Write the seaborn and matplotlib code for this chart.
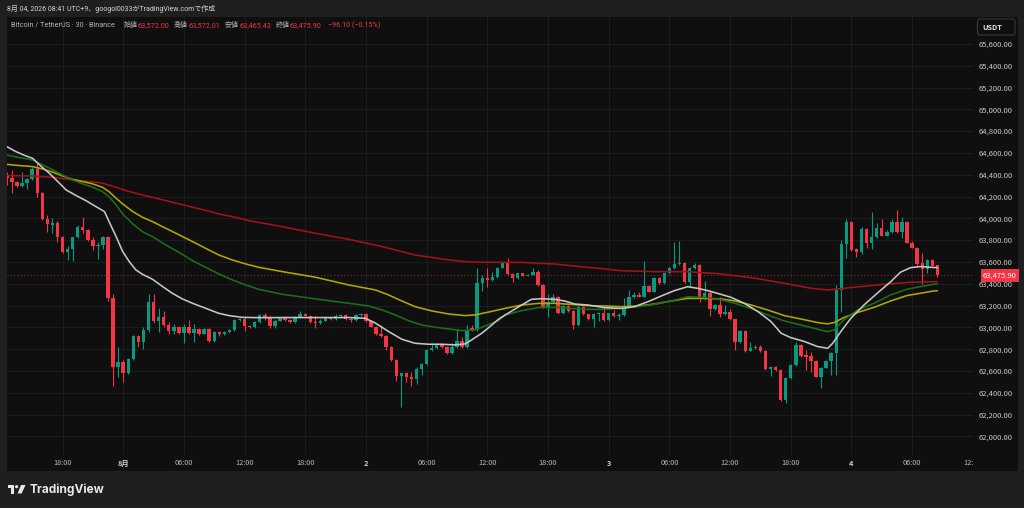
import numpy as np
import pandas as pd
import matplotlib
matplotlib.use("Agg")
import matplotlib.pyplot as plt
import seaborn as sns
from matplotlib.patches import Rectangle, Polygon, Circle, FancyBboxPatch
from matplotlib.transforms import Affine2D, blended_transform_factory

sns.set_theme(style="dark")
plt.rcParams["font.family"] = ["Noto Sans CJK JP", "DejaVu Sans"]
LATIN = ["Roboto", "Noto Sans CJK JP", "DejaVu Sans"]

# ---------------- data (30-min candles, BTC/USDT) ----------------
opens = [64392, 64368, 64331, 64300, 64328, 64358, 64453, 64230, 63995, 63943,
         63961, 63826, 63689, 63716, 63826, 63918, 63894, 63802, 63747, 63756,
         63826, 63267, 62640, 62680, 62585, 62713, 62921, 62863, 62976, 63236,
         63056, 63092, 63019, 62964, 63001, 62952, 63007, 62946, 62982, 62943,
         62982, 62878, 62961, 62936, 62955, 62976, 63068, 63080, 63016, 63001,
         63047, 63114, 63093, 63013, 63062, 63083, 63068, 63047, 63096, 63126,
         63108, 63053, 63044, 63062, 63088, 63075, 63100, 63110, 63080, 63068,
         63114, 63123, 63059, 63007, 62940, 62924, 62823, 62701, 62557, 62585,
         62548, 62527, 62622, 62664, 62793, 62814, 62848, 62823, 62768, 62823,
         62875, 62823, 62990, 62976, 63404, 63450, 63435, 63459, 63547, 63593,
         63489, 63450, 63495, 63474, 63484, 63511, 63388, 63190, 63236, 63275,
         63129, 63199, 63153, 63022, 63190, 63119, 63077, 63122, 63129, 63067,
         63129, 63104, 63110, 63181, 63275, 63297, 63281, 63379, 63327, 63456,
         63404, 63495, 63541, 63578, 63593, 63419, 63541, 63572, 63257, 63318,
         63168, 63205, 63122, 63141, 63074, 62869, 62970, 62787, 62810, 62824,
         62787, 62619, 62640, 62610, 62334, 62539, 62655, 62839, 62747, 62741,
         62695, 62548, 62631, 62695, 62769, 63343, 63765, 63970, 63719, 63689,
         63903, 63772, 63827, 63909, 63842, 63873, 63970, 63873, 63964, 63778,
         63732, 63591, 63536, 63616, 63572.00]
highs = [64429, 64444, 64340, 64423, 64370, 64470, 64505, 64240, 64031, 64001,
         63975, 63835, 63747, 63832, 63939, 64010, 63905, 63832, 63787, 63839,
         63835, 63306, 62817, 62701, 62716, 62930, 62933, 63007, 63306, 63306,
         63175, 63154, 63050, 63031, 63013, 63031, 63068, 63028, 62995, 62995,
         62991, 62970, 62970, 62965, 62985, 63078, 63090, 63099, 63025, 63058,
         63125, 63135, 63100, 63074, 63092, 63105, 63075, 63105, 63151, 63135,
         63115, 63105, 63074, 63092, 63098, 63120, 63118, 63118, 63088, 63122,
         63132, 63132, 63065, 63015, 63022, 62932, 62830, 62710, 62585, 62594,
         62594, 62640, 62672, 62800, 62854, 62860, 62858, 62830, 62854, 62982,
         62915, 63022, 63022, 63548, 63481, 63548, 63511, 63555, 63600, 63633,
         63495, 63503, 63503, 63490, 63541, 63526, 63395, 63306, 63306, 63285,
         63207, 63207, 63162, 63198, 63198, 63125, 63130, 63144, 63184, 63136,
         63159, 63135, 63266, 63343, 63327, 63327, 63609, 63387, 63465, 63465,
         63503, 63550, 63780, 63795, 63600, 63550, 63593, 63580, 63425, 63343,
         63213, 63281, 63205, 63165, 63080, 62978, 62978, 62870, 62835, 62840,
         62795, 62650, 62650, 62620, 62548, 62665, 62870, 62848, 62793, 62778,
         62700, 62640, 62705, 62778, 63389, 63802, 63995, 63980, 63728, 63924,
         63912, 64056, 63955, 63995, 63894, 63995, 64077, 64016, 63975, 63790,
         63740, 63680, 63628, 63625, 63572.01]
lows = [64306, 64236, 64290, 64290, 64270, 64350, 64199, 63985, 63878, 63863,
        63787, 63680, 63618, 63612, 63817, 63863, 63795, 63710, 63628, 63719,
        63245, 62462, 62548, 62502, 62573, 62705, 62823, 62799, 62961, 63044,
        62961, 63005, 62940, 62940, 62940, 62854, 62935, 62869, 62930, 62935,
        62863, 62870, 62925, 62928, 62948, 62968, 63060, 62970, 62990, 62995,
        63040, 63068, 62998, 62992, 63055, 63062, 63038, 63040, 63087, 63105,
        63040, 62992, 63028, 63055, 63068, 63068, 63092, 63072, 63053, 63060,
        63108, 63050, 63000, 62932, 62915, 62793, 62690, 62512, 62273, 62502,
        62463, 62481, 62564, 62655, 62785, 62805, 62815, 62760, 62760, 62815,
        62815, 62815, 62968, 62968, 63337, 63374, 63428, 63450, 63540, 63480,
        63419, 63443, 63468, 63470, 63478, 63380, 63180, 63092, 63228, 63120,
        63120, 63145, 62982, 63015, 63110, 63068, 63006, 63061, 63060, 63060,
        63098, 63067, 63100, 63175, 63268, 63275, 63275, 63320, 63320, 63396,
        63396, 63488, 63533, 63572, 63410, 63373, 63535, 63236, 63250, 63104,
        63160, 63098, 63113, 63065, 62792, 62860, 62778, 62780, 62800, 62778,
        62610, 62555, 62600, 62325, 62310, 62530, 62645, 62730, 62610, 62594,
        62540, 62447, 62625, 62564, 62564, 63139, 63634, 63700, 63649, 63671,
        63726, 63720, 63820, 63835, 63835, 63865, 63865, 63817, 63770, 63725,
        63575, 63395, 63496, 63560, 63465.43]
closes = [64374, 64331, 64300, 64328, 64358, 64453, 64230, 63995, 63946, 63961,
          63826, 63689, 63716, 63826, 63918, 63894, 63802, 63747, 63756, 63826,
          63267, 62640, 62680, 62585, 62713, 62921, 62863, 62976, 63236, 63056,
          63092, 63019, 62964, 63001, 62952, 63007, 62946, 62982, 62943, 62982,
          62878, 62961, 62936, 62955, 62976, 63068, 63080, 63016, 63001, 63047,
          63114, 63093, 63013, 63062, 63083, 63068, 63047, 63096, 63126, 63108,
          63050, 63044, 63062, 63083, 63075, 63102, 63110, 63080, 63068, 63114,
          63123, 63059, 63007, 62940, 62924, 62823, 62701, 62557, 62579, 62542,
          62527, 62622, 62664, 62793, 62814, 62848, 62823, 62768, 62823, 62875,
          62823, 62976, 62976, 63404, 63450, 63435, 63459, 63547, 63593, 63489,
          63450, 63495, 63474, 63484, 63511, 63388, 63190, 63236, 63275, 63129,
          63199, 63153, 63022, 63190, 63119, 63077, 63122, 63129, 63067, 63129,
          63104, 63113, 63181, 63281, 63297, 63281, 63379, 63327, 63456, 63404,
          63495, 63541, 63578, 63593, 63419, 63541, 63572, 63257, 63318, 63168,
          63205, 63122, 63141, 63074, 62869, 62970, 62787, 62814, 62824, 62787,
          62619, 62640, 62610, 62334, 62539, 62655, 62839, 62738, 62732, 62695,
          62548, 62631, 62695, 62769, 63343, 63765, 63970, 63710, 63689, 63903,
          63772, 63827, 63909, 63842, 63873, 63970, 63873, 63964, 63778, 63732,
          63582, 63536, 63619, 63567, 63475.90]

# moving-average lines (candle index, price)
white_x = [-0.5, 1.8, 3.8, 5.1, 6.1, 8.4, 10.4, 11.7, 13.7, 15.6, 17.6, 19.3, 20.2, 21.6,
           22.9, 24.2, 25.5, 26.8, 28.8, 30.8, 32.7, 34.7, 36.7, 39.3, 41.9, 43.9, 46.5,
           49.8, 54.4, 61.0, 67.6, 70.9, 72.9, 75.5, 78.1, 80.7, 83.4, 86.0, 88.6, 90.6,
           91.9, 93.9, 95.9, 97.2, 98.5, 101.8, 103.7, 105.7, 108.3, 110.3, 112.3, 114.9,
           118.2, 121.5, 124.1, 126.8, 129.4, 132.0, 134.6, 136.6, 138.6, 141.2, 143.2,
           145.8, 148.5, 151.1, 153.1, 155.0, 157.7, 160.3, 162.3, 163.3, 164.9, 166.9,
           169.5, 172.1, 174.8, 176.7, 178.7, 180.7, 182.6, 184.0]
white_y = [64670, 64612, 64572, 64551, 64505, 64413, 64322, 64261, 64209, 64163, 64108,
           64062, 63970, 63832, 63695, 63603, 63527, 63487, 63441, 63374, 63313, 63261,
           63221, 63175, 63129, 63108, 63092, 63089, 63090, 63090, 63090, 63083, 63038,
           62961, 62891, 62854, 62845, 62845, 62839, 62848, 62885, 62946, 63022, 63074,
           63113, 63205, 63257, 63263, 63257, 63242, 63214, 63205, 63181, 63174, 63190,
           63236, 63288, 63337, 63373, 63358, 63337, 63303, 63275, 63221, 63145, 63053,
           62946, 62906, 62870, 62824, 62808, 62854, 62961, 63084, 63206, 63313, 63420,
           63506, 63548, 63558, 63551, 63548]

green_x = [-0.5, 2.5, 5.1, 7.1, 9.1, 11.0, 13.0, 15.0, 17.0, 18.9, 20.2, 21.6, 22.9, 24.9,
           26.8, 28.8, 31.4, 34.1, 36.7, 39.3, 41.9, 44.6, 47.2, 49.8, 54.4, 61.0, 67.6,
           71.5, 74.2, 76.8, 79.4, 82.0, 84.7, 87.3, 89.9, 92.6, 95.2, 97.2, 98.5, 101.8,
           105.1, 108.3, 111.6, 114.9, 118.2, 121.5, 124.8, 128.1, 131.4, 134.6, 137.9,
           140.6, 143.9, 147.1, 150.4, 153.7, 157.0, 160.3, 162.3, 163.6, 165.5, 168.2,
           171.5, 174.8, 178.0, 180.7, 183.3, 184.0]
green_y = [64585, 64557, 64536, 64490, 64444, 64398, 64352, 64316, 64285, 64245, 64199,
           64123, 64040, 63949, 63878, 63832, 63756, 63686, 63612, 63551, 63490, 63435,
           63389, 63349, 63304, 63261, 63221, 63197, 63160, 63114, 63062, 63022, 63001,
           62986, 62970, 62976, 63025, 63062, 63113, 63153, 63181, 63184, 63174, 63165,
           63165, 63174, 63190, 63211, 63242, 63281, 63275, 63261, 63221, 63175, 63114,
           63059, 63022, 62983, 62961, 62977, 63068, 63160, 63221, 63298, 63350, 63374,
           63395, 63398]

yellow_x = [-0.5, 2.5, 5.1, 7.1, 9.1, 11.0, 13.0, 15.0, 17.0, 18.9, 20.2, 21.6, 22.9, 24.9,
            26.8, 28.8, 31.4, 34.1, 36.7, 39.3, 41.9, 44.6, 47.2, 49.8, 54.4, 61.0, 67.6,
            72.9, 75.5, 78.1, 80.7, 84.0, 87.3, 90.6, 92.6, 95.2, 98.5, 101.8, 105.1,
            108.3, 111.6, 114.9, 118.2, 121.5, 124.8, 128.1, 131.4, 134.6, 137.9, 141.2,
            143.9, 147.1, 150.4, 153.7, 157.0, 160.3, 162.3, 163.6, 165.5, 168.2, 171.5,
            174.8, 178.0, 180.7, 183.3, 184.0]
yellow_y = [64498, 64484, 64475, 64453, 64423, 64389, 64358, 64337, 64316, 64285, 64245,
            64184, 64132, 64062, 64010, 63970, 63909, 63848, 63787, 63725, 63664, 63618,
            63582, 63551, 63512, 63460, 63389, 63343, 63297, 63242, 63190, 63151, 63123,
            63108, 63114, 63140, 63174, 63205, 63220, 63220, 63211, 63199, 63196, 63190,
            63196, 63214, 63242, 63266, 63266, 63260, 63243, 63206, 63160, 63108, 63077,
            63044, 63032, 63044, 63090, 63136, 63184, 63243, 63292, 63313, 63334, 63336]

red_x = [-0.5, 5.1, 7.1, 9.1, 11.7, 15.0, 18.3, 19.6, 21.6, 23.6, 26.2, 28.8, 31.4, 34.1,
         36.7, 39.3, 41.9, 44.6, 47.9, 54.4, 61.0, 67.6, 74.2, 80.7, 87.3, 90.6, 93.9,
         97.2, 101.8, 108.3, 114.9, 121.5, 128.1, 134.6, 140.6, 147.1, 153.7, 159.0,
         162.3, 166.9, 173.4, 178.7, 184.0]
red_y = [64392, 64389, 64383, 64377, 64361, 64343, 64328, 64313, 64285, 64254, 64221,
         64193, 64163, 64132, 64102, 64074, 64040, 64016, 63979, 63924, 63863, 63808,
         63741, 63664, 63619, 63603, 63597, 63597, 63596, 63581, 63551, 63520, 63511,
         63511, 63493, 63457, 63405, 63359, 63343, 63365, 63395, 63414, 63420]

time_tick_pos = [11, 23, 35, 47, 59, 71, 83, 95, 107, 119, 131, 143, 155, 167, 179, 191]
time_tick_labels = ["18:00", "8月", "06:00", "12:00", "18:00", "2", "06:00", "12:00",
                    "18:00", "3", "06:00", "12:00", "18:00", "4", "06:00", "12:00"]
day_labels = {"8月", "2", "3", "4"}
price_ticks = list(range(62000, 65601, 200))
last_price = 63475.90

header_text = "8月 04, 2026 08:41 UTC+9、googol0033がTradingView.comで作成"
symbol_text = "Bitcoin / TetherUS · 30 · Binance"
ohlc_labels = ["始値", "高値", "安値", "終値"]
ohlc_values = ["63,572.00", "63,572.01", "63,465.43", "63,475.90"]
change_text = "−96.10 (−0.15%)"

# ---------------- figure ----------------
W, H = 1024, 508
fig = plt.figure(figsize=(W / 100, H / 100), dpi=100, facecolor="#1f1f1f")
PX = Affine2D().scale(0.01, -0.01).translate(0, H / 100) + fig.dpi_scale_trans  # ref pixel coords

panel = Rectangle((6.5, 16.7), 1018 - 6.5, 470.7 - 16.7, transform=PX,
                  facecolor="#0f0f0f", edgecolor="none", zorder=-5)
fig.add_artist(panel)

ax_l, ax_r, ax_t, ax_b = 6.5, 973.0, 16.7, 455.0
ax = fig.add_axes([ax_l / W, 1 - ax_b / H, (ax_r - ax_l) / W, (ax_b - ax_t) / H])
ax.set_facecolor("#0f0f0f")
for s in ax.spines.values():
    s.set_visible(False)

ax.set_xlim(-0.08, 191.04)
ax.set_ylim(61829, 65850)

# grid
ax.set_xticks(time_tick_pos)
ax.set_xticklabels([])
ax.set_yticks(price_ticks)
ax.yaxis.tick_right()
ax.set_yticklabels([f"{v:,.2f}" for v in price_ticks])
ax.tick_params(axis="y", length=0, pad=4.3, labelsize=5.5, labelcolor="#c8c8c8")
ax.tick_params(axis="x", length=0)
ax.grid(True, color="#1c1c1c", linewidth=0.8)
ax.set_axisbelow(True)

# candles
o = np.array(opens, float); c = np.array(closes, float)
h = np.array(highs, float); l = np.array(lows, float)
idx = np.arange(len(o))
up = c >= o
cols = np.where(up, "#089981", "#f23645")
ax.vlines(idx, l, h, colors=cols, linewidth=0.8, zorder=2)
ax.bar(idx, np.maximum(np.abs(c - o), 9), bottom=np.minimum(o, c), width=0.68,
       color=cols, linewidth=0, zorder=2.1)

# moving averages
for xs, ys, col in [(red_x, red_y, "#a3121b"), (yellow_x, yellow_y, "#b3a600"),
                    (green_x, green_y, "#1d6d1d"), (white_x, white_y, "#c6c6c6")]:
    sns.lineplot(x=xs, y=ys, ax=ax, color=col, linewidth=1.15, estimator=None,
                 sort=False, zorder=3)
ax.set_xlabel(""); ax.set_ylabel("")

# last price dotted line + label
ax.axhline(last_price, color="#8a2a30", linewidth=0.8, linestyle=(0, (1, 2)), zorder=1.5)
bt = blended_transform_factory(ax.transAxes, ax.transData)
ax.text(1 + 9.8 / (ax_r - ax_l), last_price, f"{last_price:,.2f}", transform=bt,
        ha="left", va="center", fontsize=5.5, color="white", zorder=6, clip_on=False,
        bbox=dict(boxstyle="square,pad=0.3", fc="#f23645", ec="none"))

# time labels (clipped at the price scale)
clip = Rectangle((0, 0), ax_r, H, transform=PX, visible=False)
fig.add_artist(clip)
for pos, lab in zip(time_tick_pos, time_tick_labels):
    t = ax.text(pos, -(463 - ax_b) / (ax_b - ax_t), lab,
                transform=blended_transform_factory(ax.transData, ax.transAxes),
                ha="center", va="center", fontsize=5.3,
                color="#d0d0d0" if lab in day_labels else "#b8b8b8",
                fontweight="bold" if lab in day_labels else "normal")
    t.set_clip_on(True)
    t.set_clip_path(clip)

# USDT box
fig.add_artist(FancyBboxPatch((977.5, 19), 37.5, 16, boxstyle="round,pad=0,rounding_size=2.5",
                              transform=PX, fc="#0f0f0f", ec="#3a3a3a", lw=0.8, zorder=5))
fig.text(982, 27.3, "USDT", transform=PX, ha="left", va="center", fontsize=5.3,
         color="#e0e0e0", fontweight="bold", zorder=6)

# header + legend
fig.text(7, 8.6, header_text, transform=PX, ha="left", va="center", fontsize=5.05,
         color="#d4d4d4", family=LATIN)
fig.text(11, 25.3, symbol_text, transform=PX, ha="left", va="center", fontsize=5.2,
         color="#b4b4b4", family=LATIN)
lab_x = [123.3, 174.0, 225.0, 276.0]
val_x = [137.3, 188.3, 239.3, 290.0]
for lx, vx, lab, val in zip(lab_x, val_x, ohlc_labels, ohlc_values):
    fig.text(lx, 25.3, lab, transform=PX, ha="left", va="center", fontsize=5.0, color="#b4b4b4")
    fig.text(vx, 25.3, val, transform=PX, ha="left", va="center", fontsize=5.2,
             color="#f23645", family=LATIN)
fig.text(328.3, 25.3, change_text, transform=PX, ha="left", va="center", fontsize=5.2,
         color="#f23645", family=LATIN)

# TradingView logo
fig.add_artist(Polygon([(7.5, 485), (14.2, 485), (14.2, 493.5), (11.0, 493.5), (11.0, 488.2),
                        (7.5, 488.2)], closed=True, transform=PX, fc="#e8e8e8", ec="none"))
fig.add_artist(Circle((16.6, 486.7), 1.6, transform=PX, fc="#e8e8e8", ec="none"))
fig.add_artist(Polygon([(21.0, 485), (25.5, 485), (21.6, 493.5), (17.6, 493.5)], closed=True,
                       transform=PX, fc="#e8e8e8", ec="none"))
fig.text(29.5, 489.5, "TradingView", transform=PX, ha="left", va="center", fontsize=8.6,
         color="#e8e8e8", fontweight="bold", family=["Inter", "DejaVu Sans"])

fig.savefig("out.png", dpi=100, facecolor=fig.get_facecolor())
